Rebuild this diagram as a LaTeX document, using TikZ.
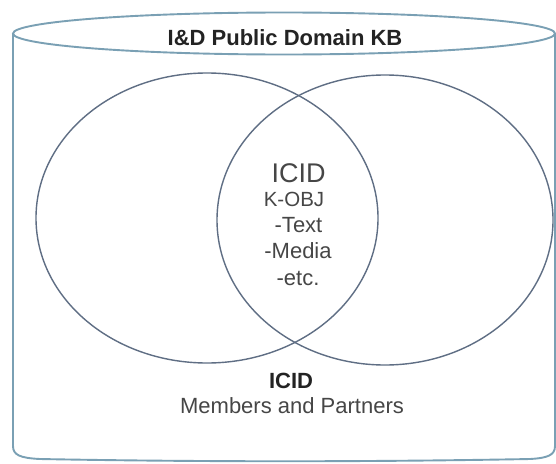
\documentclass[tikz,border=0pt]{standalone}
\usepackage{fontspec}
\setmainfont{Liberation Sans}
\begin{document}
\begin{tikzpicture}[x=1pt,y=-1pt,
  cyl/.style={draw=cylblue, line width=1.9pt},
  venn/.style={draw=vennslate, line width=1.4pt},
  txt/.style={inner sep=0pt, anchor=base, text=textgray, font=\fontsize{22}{26}\selectfont},
  boldtxt/.style={txt, text=titlegray, font=\fontsize{22}{26}\selectfont\bfseries}]
\definecolor{cylblue}{RGB}{122,160,180}
\definecolor{vennslate}{RGB}{95,110,132}
\definecolor{textgray}{RGB}{70,70,70}
\definecolor{titlegray}{RGB}{35,35,35}
\useasboundingbox (0,0) rectangle (556,463);
\fill[white] (0,0) rectangle (556,463);
% cylinder
\draw[cyl] (13,33.5) -- (13,446) .. controls (13,455) and (20,458) .. (40,459)
  .. controls (200,462) and (370,462) .. (530,459)
  .. controls (548,458) and (555,455) .. (555,446) -- (555,33.5);
\draw[cyl] (284,33.5) ellipse [x radius=271, y radius=21];
% venn ellipses
\draw[venn] (207,218) ellipse [x radius=171, y radius=145];
\draw[venn] (385,220) ellipse [x radius=168, y radius=145];
% texts
\node[boldtxt] (title) at (285,45) {I\&D Public Domain KB};
\node[txt, font=\fontsize{27}{30}\selectfont] (icid) at (298.5,182) {ICID};
\node[txt, font=\fontsize{20.5}{24}\selectfont] (kobj) at (294,206) {K-OBJ};
\node[txt] (text) at (298.5,232) {-Text};
\node[txt] (media) at (298,258) {-Media};
\node[txt] (etc) at (298,285) {-etc.};
\node[boldtxt] (icidb) at (291,388) {ICID};
\node[txt] (members) at (292,413) {Members and Partners};
\end{tikzpicture}
\end{document}
